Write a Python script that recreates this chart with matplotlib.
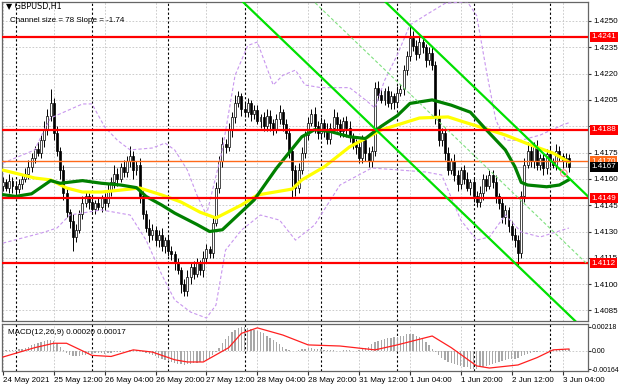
import matplotlib
matplotlib.use("Agg")
import matplotlib.pyplot as plt
import matplotlib.transforms as mtransforms
import numpy as np

plt.rcParams['font.family'] = ['Liberation Sans', 'DejaVu Sans']

# ---------------- data (prices in pips above BASE) ----------------
BASE = 1.4000
PIP = 0.0001
first_open = 156
closes = [158,155,159,156,154,157,160,
          163,167,172,177,175,182,188,
          196,203,186,
          176,165,152,141,136,127,131,140,
          146,150,147,143,146,144,149,146,
          153,158,163,160,167,164,170,173,165,168,
          150,140,132,128,131,125,128,122,125,119,
          117,112,108,100,96,
          104,110,106,112,108,115,120,118,
          135,155,170,
          180,178,188,195,203,207,
          200,198,203,197,199,193,195,190,196,192,188,194,198,191,186,176,165,155,
          165,175,185,192,197,
          190,186,192,188,183,189,195,191,187,193,189,184,180,
          178,172,182,175,170,176,
          212,
          208,205,210,203,207,204,209,211,
          222,230,
          240,236,231,238,
          235,228,232,225,
          195,182,
          186,175,165,170,
          162,157,165,160,155,158,
          150,147,152,160,156,162,158,
          150,146,138,142,133,128,125,118,
          150,168,
          176,170,178,
          168,172,166,174,170,168,
          176,173,170,172,167]
upper_wicks = [3,2,4,2,3,3,2,3,4,3, 2,4,3,5,4,8,3,4,2,3, 3,2,4,3,2,4,3,2,3,2,
               3,2,3,4,3,5,3,2,4,3, 6,3,2,4,3,2,5,3,2,3, 4,2,3,3,2,3,2,3,4,2,
               3,3,2,4,3,2,4,3,3,4, 3,4,3,5,3,2,4,3,2,3, 3,2,3,4,3,2,3,4,2,3,
               3,2,3,4,3,2,3,3,4,3, 3,2,4,3,5,3,3,2,3,4, 2,3,4,3,2,3,3,3,4,3,
               2,3,3,2,4,3,3,3,8,4, 3,4,3,2,3,4,2,5,3,3, 3,2,4,3,2,3,4,2,3,3,
               4,3,2,3,3,4,2,3,3,2, 3,4,3,3,4,5,3,3,4,2, 3,3,4,2,4,3,2,3,2]
lower_wicks = [3,2,3,4,3,2,3,2,3,3, 3,2,3,4,3,3,4,3,5,4, 3,4,8,3,2,3,2,4,3,3,
               2,3,4,2,3,3,4,2,3,3, 3,5,3,4,3,2,4,3,3,4, 3,4,3,3,4,2,5,3,3,4,
               3,2,3,4,3,3,3,2,3,3, 3,2,4,3,2,4,3,3,4,3, 2,4,3,3,5,3,2,3,4,3,
               4,16,5,3,2,3,3,2,4,3, 3,4,3,3,2,4,3,3,5,3, 3,4,3,3,5,3,3,3,3,2,
               3,2,3,4,3,2,3,3,3,3, 3,2,3,4,3,3,4,3,3,4, 3,2,3,4,3,3,2,4,3,3,
               3,4,3,2,3,4,3,3,4,3, 3,4,7,3,3,2,3,4,3,3, 4,3,3,2,3,3,4,3,3]

# moving averages / bands read at sample bars (pips above BASE)
green_bars = [0,4,9,15,18,25,31,37,42,45,50,54,61,65,69,79,86,94,98,103,109,114,119,124,128,135,141,147,152,158,161,163,165,171,175,178]
green_vals = [151,150,151.5,159,157.5,159,157.5,156.5,155,150,145,140.5,134,130,131,148,166,184,188,187,184,183,190,196,203,205,202,198,188,176.5,167,158,156.5,155.5,156.5,159.5]
yellow_bars = [0,10,15,20,25,31,37,43,50,56,62,67,75,80,91,94,101,109,119,131,140,145,150,158,166,173,178]
yellow_vals = [165,160.5,159.4,154.8,152.5,152.5,153.6,154.8,150.8,146.8,141,137.7,145.1,150.8,154.2,159.4,166.8,178.2,187.9,194.7,195.3,192.4,189.6,185,179.3,174.7,169.6]
bb_up_bars = [0,10,13,15,25,28,32,36,40,47,51,54,58,61,64,69,73,77,80,85,88,92,95,100,109,114,117,120,124,128,133,139,146,149,152,155,158,163,169,176,178]
bb_up_vals = [169,176.5,188,194.7,202.7,202.7,189.6,182,176.5,177.6,180.4,176.5,165,150.8,139.4,176.5,219,236,238,213.5,219,222,213.5,212,212,205,200.4,216,230.6,247.7,253.4,260,261,253,222,193.6,182,182,185,190.7,192]
bb_lo_bars = [0,12,17,21,31,40,45,50,54,59,64,67,70,75,81,87,92,98,106,116,125,133,138,144,149,153,158,163,169,178]
bb_lo_vals = [123.4,129.1,132,139.4,142.3,139.4,125.1,105.2,91,84.1,80.7,88.1,119.4,130.8,139.4,136.5,125.1,133.7,156.5,166.2,165,163.9,162.2,136.5,125.1,126.9,139.4,129.7,126.9,132]

# MACD (units of 0.0001)
macd_hist = [0,1,1,1,1,2,2,
             3,4,5,6,7,8,9,10,10,9,
             7,4,1,-2,
             -4,-5,-5,-5,-4,-4,-3,-3,
             -2,-2,-2,-3,-2,-2,-1,-1,-1,0,0,1,1,
             1,0,-1,-2,-3,-4,
             -5,-6,-7,-8,-9,-10,-11,-12,-12,-13,-12,
             -12,-11,-11,-10,-9,-8,-6,-4,
             -1,3,7,11,14,17,
             19,21,22,22,21,20,
             19,18,17,16,14,12,10,8,6,4,2,1,
             0,0,1,
             2,2,3,3,2,2,2,1,1,1,1,0,0,1,1,1,0,0,1,
             2,3,4,6,8,9,10,11,12,12,13,13,14,14,15,15,
             15,14,13,11,8,
             5,2,-1,-4,-6,-8,-10,
             -11,-12,-13,-14,-15,-15,-16,-16,-16,-15,
             -15,-14,-13,-12,-11,-10,-9,-8,-7,-7,
             -7,-6,-5,-4,-3,-2,-1,-1,0,0,
             0,1,1,1,1,2,2,2]
signal_bars = [0,10,16,20,28,34,41,47,54,58,63,71,75,80,88,96,106,117,124,135,141,149,153,162,168,173,178]
signal_vals = [-5.5,3,7,7,-4,-5,1,-1,-8,-10,-10,3,16,21,14.5,5.5,4.5,1,5.5,13.6,3,-13.6,-15.5,-12.7,-6,1,1.8]

levels_red = [1.4241, 1.4188, 1.4149, 1.4112]
level_orange = 1.4170
last_price = 1.4167
channel_anchor_bar = 132
channel_anchor_price = 1.42405
channel_slope = -0.000174
channel_size = 0.0078
marker_bar, marker_price = 176.4, 1.41633

price_ticks = [1.4250, 1.4235, 1.4220, 1.4205, 1.4190, 1.4175, 1.4160, 1.4145, 1.4130, 1.4115, 1.4100, 1.4085]
hidden_tick_labels = [1.4190]   # covered by the 1.4188 tag in the reference
xtick_bars = [0, 16, 32, 48, 64, 80, 96, 112, 128, 144, 160, 176]
xtick_labels = ["24 May 2021", "25 May 12:00", "26 May 04:00", "26 May 20:00", "27 May 12:00",
                "28 May 04:00", "28 May 20:00", "31 May 12:00", "1 Jun 04:00", "1 Jun 20:00",
                "2 Jun 12:00", "3 Jun 04:00"]
day_sep_bars = [4, 28, 52, 76, 100, 124, 148, 172]

# ---------------- figure ----------------
W, H = 620, 388
fig = plt.figure(figsize=(W / 100, H / 100), dpi=100)
fig.patch.set_facecolor('white')
ax = fig.add_axes([2 / W, 1 - 321 / H, 586 / W, 319 / H])
axm = fig.add_axes([2 / W, 1 - 371 / H, 586 / W, 47 / H], sharex=ax)

XMIN, XMAX = -0.3, 184.0
ax.set_xlim(XMIN, XMAX)
ax.set_ylim(1.40790, 1.42608)
axm.set_ylim(-0.00182, 0.00245)

FS = 5.8
grid_kw = dict(color='#c4c4c4', lw=0.6, ls=(0, (2, 2)), zorder=0)
for a in (ax, axm):
    for b in xtick_bars:
        a.axvline(b, **grid_kw)
    for b in day_sep_bars:
        a.axvline(b, color='black', lw=0.8, ls=(0, (2, 2)), zorder=1)
    for s in a.spines.values():
        s.set_color('#666666')
        s.set_linewidth(0.9)
for p in price_ticks:
    ax.axhline(p, **grid_kw)
axm.axhline(0, **grid_kw)

# candles
c = np.array(closes, dtype=float)
o = np.concatenate([[first_open], c[:-1]])
hi = np.maximum(o, c) + np.array(upper_wicks)
lo = np.minimum(o, c) - np.array(lower_wicks)
idx = np.arange(len(c))
P = lambda v: BASE + np.asarray(v, dtype=float) * PIP
ax.vlines(idx, P(lo), P(hi), color='black', lw=0.7, zorder=2)
bull = c >= o
body_bot = P(np.minimum(o, c))
body_h = np.maximum(np.abs(c - o), 0.4) * PIP
ax.bar(idx[bull], body_h[bull], bottom=body_bot[bull], width=0.62, color='white',
       edgecolor='black', linewidth=0.5, zorder=2.5)
ax.bar(idx[~bull], body_h[~bull], bottom=body_bot[~bull], width=0.62, color='black',
       edgecolor='black', linewidth=0.5, zorder=2.5)

# bands and MAs
ax.plot(bb_up_bars, P(bb_up_vals), color='#c896ee', lw=0.8, ls=(0, (3, 2)), zorder=3)
ax.plot(bb_lo_bars, P(bb_lo_vals), color='#c896ee', lw=0.8, ls=(0, (3, 2)), zorder=3)
ax.plot(yellow_bars, P(yellow_vals), color='#ffff00', lw=2.3, zorder=4, solid_capstyle='round')
ax.plot(green_bars, P(green_vals), color='#008000', lw=2.3, zorder=4.2, solid_capstyle='round')

# horizontal levels
ax.axhline(last_price, color='#c0c0c0', lw=0.7, zorder=1.5)
ax.axhline(level_orange, color='#ff6a1a', lw=1.0, zorder=5)
for lv in levels_red:
    ax.axhline(lv, color='#ff0000', lw=1.6, zorder=5)

# regression channel
xs = np.array([XMIN, XMAX])
up_line = channel_anchor_price + channel_slope * (xs - channel_anchor_bar)
ax.plot(xs, up_line, color='#00e000', lw=1.6, zorder=5)
ax.plot(xs, up_line - channel_size, color='#00e000', lw=1.6, zorder=5)
ax.plot(xs, up_line - channel_size / 2, color='#7ee07e', lw=0.8, ls=(0, (3, 2)), zorder=5)

ax.scatter([marker_bar], [marker_price], s=22, facecolors='none', edgecolors='#ff8a8a',
           linewidths=0.8, zorder=6)

# right axis labels
ax.yaxis.tick_right()
ax.set_yticks(price_ticks)
ax.set_yticklabels(["" if p in hidden_tick_labels else f"{p:.4f}" for p in price_ticks])
ax.tick_params(axis='y', labelsize=FS, length=2, pad=2, colors='#333333', labelcolor='black')
ax.tick_params(axis='x', bottom=False, labelbottom=False)

trans = mtransforms.blended_transform_factory(ax.transAxes, ax.transData)
def tag(y, txt, fc, z):
    ax.text(1.006, y, txt, transform=trans, fontsize=FS, color='white', va='center', ha='left',
            bbox=dict(boxstyle='square,pad=0.18', fc=fc, ec='none'), clip_on=False, zorder=z)
for lv in levels_red:
    tag(lv, f"{lv:.4f}", '#ff0000', 10)
tag(level_orange, f"{level_orange:.4f}", '#ff6a1a', 10)
tag(last_price, f"{last_price:.4f}", '#000000', 11)

ax.text(4 / 586, 1 - 5 / 319, "\u25bc GBPUSD,H1", transform=ax.transAxes, fontsize=FS,
        va='center', ha='left', family=['DejaVu Sans'], zorder=12)
ax.text(8 / 586, 1 - 18 / 319, "Channel size = 78 Slope = -1.74", transform=ax.transAxes,
        fontsize=FS, va='center', ha='left', zorder=12)

# MACD
axm.bar(idx, np.array(macd_hist) * PIP, width=0.42, color='#a8a8a8', zorder=2)
axm.plot(signal_bars, np.array(signal_vals) * PIP, color='#ff2020', lw=0.9, zorder=3)
axm.text(6 / 586, 1 - 9 / 47, "MACD(12,26,9) 0.00020 0.00017", transform=axm.transAxes,
         fontsize=FS, va='center', ha='left')
axm.yaxis.tick_right()
axm.set_yticks([0.00218, 0.0, -0.00164])
axm.set_yticklabels(["0.00218", "0.00", "-0.00164"])
axm.tick_params(axis='y', labelsize=5.0, length=2, pad=1, colors='#333333', labelcolor='black')
axm.set_xticks(xtick_bars)
axm.set_xticklabels(xtick_labels, ha='left')
axm.tick_params(axis='x', labelsize=FS, length=3, pad=1.5, colors='#333333', labelcolor='black')

fig.savefig("out.png", dpi=100, facecolor='white')
